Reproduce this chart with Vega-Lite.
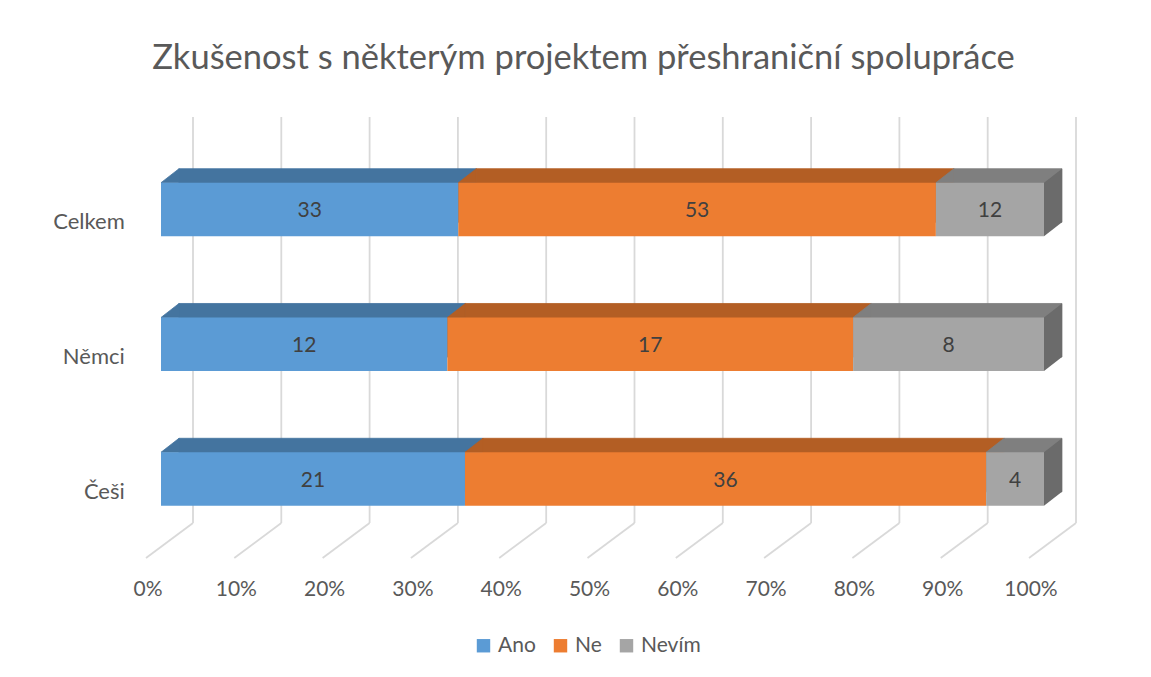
{
  "$schema": "https://vega.github.io/schema/vega-lite/v6.json",
  "width": 883,
  "height": 406,
  "autosize": {"type": "none"},
  "padding": {"left": 161, "top": 117, "right": 107, "bottom": 154},
  "background": "white",
  "title": {
    "text": "Zkušenost s některým projektem přeshraniční spolupráce",
    "font": "Lato",
    "fontSize": 34.5,
    "fontWeight": "normal",
    "color": "#595959",
    "anchor": "middle",
    "dx": -19,
    "offset": 40
  },
  "datasets": {
    "main": [
      {"cat": "Celkem", "resp": "Ano", "value": 33},
      {"cat": "Celkem", "resp": "Ne", "value": 53},
      {"cat": "Celkem", "resp": "Nevím", "value": 12},
      {"cat": "Němci", "resp": "Ano", "value": 12},
      {"cat": "Němci", "resp": "Ne", "value": 17},
      {"cat": "Němci", "resp": "Nevím", "value": 8},
      {"cat": "Češi", "resp": "Ano", "value": 21},
      {"cat": "Češi", "resp": "Ne", "value": 36},
      {"cat": "Češi", "resp": "Nevím", "value": 4}
    ],
    "ticks": [
      {"t": 0}, {"t": 0.1}, {"t": 0.2}, {"t": 0.3}, {"t": 0.4}, {"t": 0.5},
      {"t": 0.6}, {"t": 0.7}, {"t": 0.8}, {"t": 0.9}, {"t": 1}
    ]
  },
  "layer": [
    {
      "data": {"name": "ticks"},
      "mark": {"type": "rule", "xOffset": 32, "color": "#d9d9d9", "strokeWidth": 1.8},
      "encoding": {
        "x": {"field": "t", "type": "quantitative", "scale": {"domain": [0, 1]}, "axis": {"format": ".0%", "title": null}}
      }
    },
    {
      "data": {"name": "ticks"},
      "mark": {"type": "rule", "xOffset": 32, "x2Offset": -15, "y2Offset": 35, "color": "#d9d9d9", "strokeWidth": 1.8},
      "encoding": {
        "x": {"field": "t", "type": "quantitative", "axis": {"format": ".0%", "title": null}},
        "x2": {"field": "t"},
        "y": {"value": "height"},
        "y2": {"value": "height"}
      }
    },
    {
      "data": {"name": "main"},
      "transform": [
        {"stack": "value", "groupby": ["cat"], "sort": [{"field": "resp", "order": "ascending"}], "offset": "normalize", "as": ["x0", "x1"]},
        {"calculate": "(datum.x0 + datum.x1) / 2", "as": "xm"}
      ],
      "encoding": {
        "y": {
          "field": "cat",
          "type": "nominal",
          "sort": ["Celkem", "Němci", "Češi"],
          "scale": {"paddingInner": 0.603, "paddingOuter": 0.3075, "align": 0.7925},
          "axis": {"title": null}
        }
      },
      "layer": [
        {
          "mark": {"type": "bar", "xOffset": 18, "x2Offset": 18, "yOffset": -14, "y2Offset": -14, "strokeWidth": 0.8},
          "encoding": {
            "x": {"field": "x0", "type": "quantitative", "axis": {"format": ".0%", "title": null}},
            "x2": {"field": "x1"},
            "fill": {
              "condition": [
                {"test": "datum.resp === 'Ano'", "value": "#44749f"},
                {"test": "datum.resp === 'Ne'", "value": "#b35e24"}
              ],
              "value": "#7f7f7f"
            },
            "stroke": {
              "condition": [
                {"test": "datum.resp === 'Ano'", "value": "#44749f"},
                {"test": "datum.resp === 'Ne'", "value": "#b35e24"}
              ],
              "value": "#7f7f7f"
            }
          }
        },
        {
          "mark": {"type": "point", "shape": "M0,-26.75L18,-40.75L18,-26.75Z", "size": 4, "filled": true, "opacity": 1, "strokeWidth": 0.8},
          "encoding": {
            "x": {"field": "x0", "type": "quantitative", "axis": {"format": ".0%", "title": null}},
            "fill": {
              "condition": [
                {"test": "datum.resp === 'Ano'", "value": "#44749f"},
                {"test": "datum.resp === 'Ne'", "value": "#b35e24"}
              ],
              "value": "#7f7f7f"
            },
            "stroke": {
              "condition": [
                {"test": "datum.resp === 'Ano'", "value": "#44749f"},
                {"test": "datum.resp === 'Ne'", "value": "#b35e24"}
              ],
              "value": "#7f7f7f"
            }
          }
        },
        {
          "mark": {"type": "bar"},
          "encoding": {
            "x": {"field": "x0", "type": "quantitative", "axis": {"format": ".0%", "title": null}},
            "x2": {"field": "x1"},
            "color": {
              "field": "resp",
              "type": "nominal",
              "scale": {"domain": ["Ano", "Ne", "Nevím"], "range": ["#5b9bd5", "#ed7d31", "#a5a5a5"]},
              "legend": {
                "title": null,
                "orient": "none",
                "legendX": 312,
                "legendY": 518,
                "direction": "horizontal",
                "symbolType": "square",
                "symbolSize": 180,
                "symbolStrokeWidth": 0,
                "labelFont": "Lato",
                "labelFontSize": 21,
                "labelColor": "#595959",
                "columnPadding": 14,
                "labelOffset": 4,
                "padding": 0
              }
            }
          }
        },
        {
          "mark": {"type": "text", "font": "Lato", "fontSize": 21, "color": "#404040", "baseline": "middle", "dy": 1.5},
          "encoding": {
            "x": {"field": "xm", "type": "quantitative", "axis": {"format": ".0%", "title": null}},
            "text": {"field": "value", "type": "quantitative"}
          }
        },
        {
          "transform": [{"filter": "datum.resp === 'Nevím'"}],
          "mark": {"type": "point", "shape": "M0,-26.75L18,-40.75L18,12.75L0,26.75Z", "size": 4, "filled": true, "opacity": 1, "strokeWidth": 0, "color": "#6b6b6b"},
          "encoding": {
            "x": {"field": "x1", "type": "quantitative", "axis": {"format": ".0%", "title": null}}
          }
        }
      ]
    }
  ],
  "config": {
    "view": {"stroke": null},
    "axisX": {
      "labelFont": "Lato",
      "labelFontSize": 21,
      "labelColor": "#595959",
      "labelOffset": -13.5,
      "labelPadding": 55.5,
      "domain": false,
      "ticks": false,
      "tickSize": 0,
      "grid": false,
      "tickCount": 10,
      "labelFlush": false,
      "labelOverlap": false
    },
    "axisY": {
      "labelFont": "Lato",
      "labelFontSize": 22,
      "labelColor": "#595959",
      "labelPadding": 36.7,
      "labelOffset": 13,
      "domain": false,
      "ticks": false,
      "tickSize": 0,
      "grid": false
    }
  }
}
